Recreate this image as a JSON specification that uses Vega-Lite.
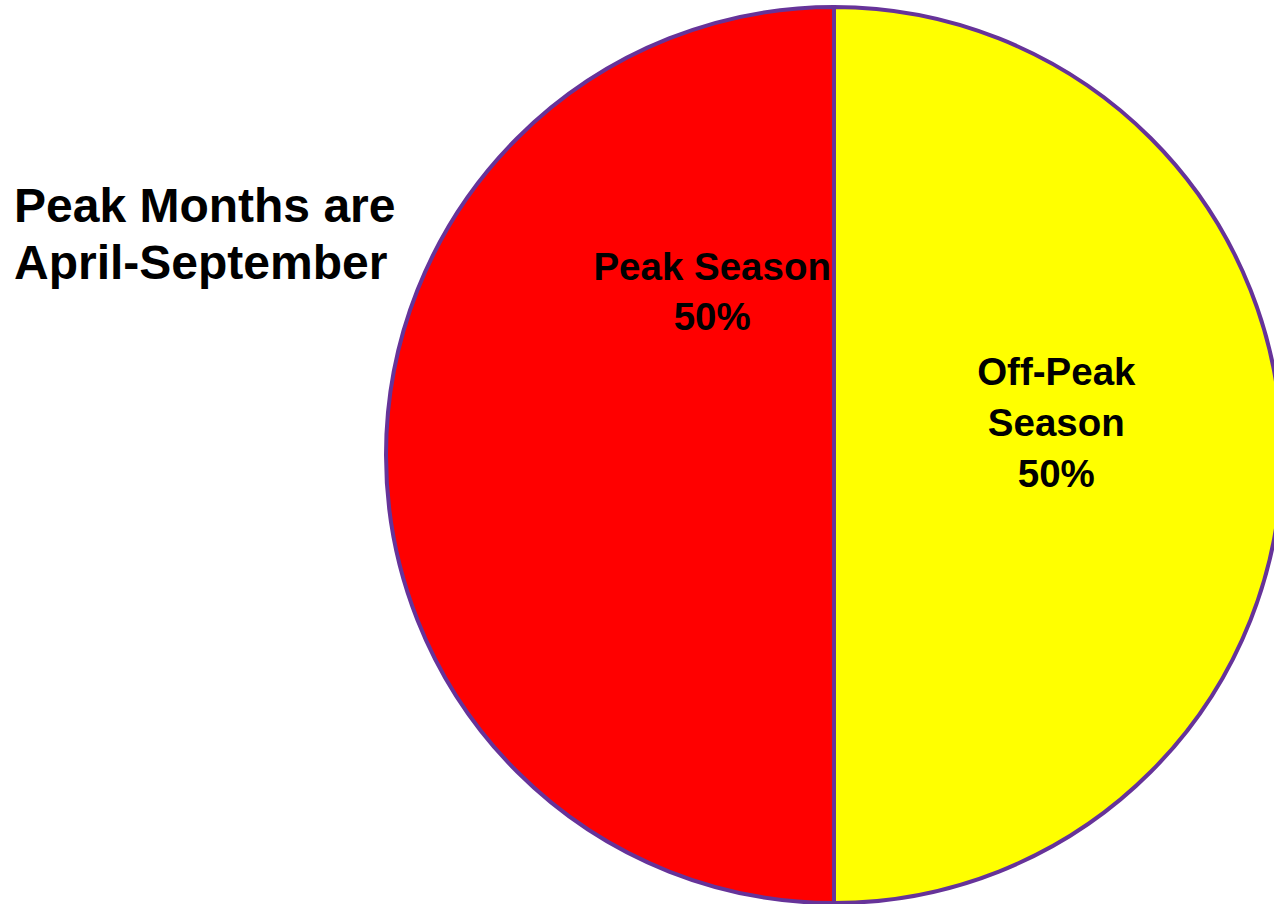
{
  "$schema": "https://vega.github.io/schema/vega-lite/v6.json",
  "width": 880,
  "height": 896,
  "autosize": "none",
  "padding": {"left": 394, "top": 7, "right": 0, "bottom": 1},
  "background": "white",
  "title": {
    "text": ["Peak Months are", "April-September"],
    "anchor": "start",
    "frame": "group",
    "orient": "top",
    "baseline": "top",
    "offset": 0,
    "dx": -380,
    "dy": 290,
    "font": "Liberation Sans",
    "fontSize": 48,
    "fontWeight": "bold",
    "color": "black",
    "lineHeight": 57
  },
  "data": {
    "values": [
      {"season": "Off-Peak Season", "share": 50, "label": "Off-Peak\nSeason\n50%"},
      {"season": "Peak Season", "share": 50, "label": "Peak Season\n50%"}
    ]
  },
  "encoding": {
    "theta": {"field": "share", "type": "quantitative", "stack": true}
  },
  "layer": [
    {
      "mark": {"type": "arc", "outerRadius": 448, "stroke": "#663399", "strokeWidth": 4},
      "encoding": {
        "color": {
          "field": "season",
          "type": "nominal",
          "scale": {"domain": ["Off-Peak Season", "Peak Season"], "range": ["#FFFF00", "#FF0000"]},
          "legend": null
        }
      }
    },
    {
      "mark": {"type": "text", "radius": 223, "thetaOffset": 0.993, "font": "Liberation Sans", "fontSize": 38.5, "fontWeight": "bold", "fill": "black", "lineBreak": "\n", "lineHeight": 50, "align": "center", "baseline": "middle"},
      "encoding": {
        "detail": {"field": "season", "type": "nominal"},
        "text": {"condition": {"test": "datum.season === 'Peak Season'", "field": "label"}, "value": ""}
      }
    },
    {
      "mark": {"type": "text", "radius": 237, "thetaOffset": -0.354, "font": "Liberation Sans", "fontSize": 38.5, "fontWeight": "bold", "fill": "black", "lineBreak": "\n", "lineHeight": 51, "align": "center", "baseline": "middle"},
      "encoding": {
        "detail": {"field": "season", "type": "nominal"},
        "text": {"condition": {"test": "datum.season === 'Off-Peak Season'", "field": "label"}, "value": ""}
      }
    }
  ],
  "config": {"view": {"stroke": null}}
}
